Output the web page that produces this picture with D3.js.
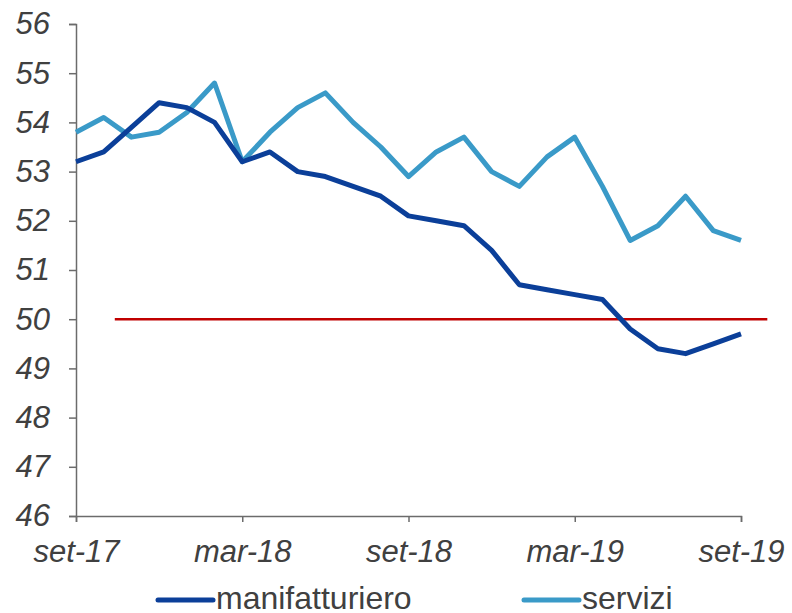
<!DOCTYPE html>
<html><head><meta charset="utf-8">
<script src="https://cdn.jsdelivr.net/npm/d3@7"></script>
<style>body{margin:0;background:#fff}</style>
</head><body>
<svg id="c" width="792" height="613"></svg>
<script>
const months = ["set-17","ott-17","nov-17","dic-17","gen-18","feb-18","mar-18","apr-18","mag-18","giu-18","lug-18","ago-18","set-18","ott-18","nov-18","dic-18","gen-19","feb-19","mar-19","apr-19","mag-19","giu-19","lug-19","ago-19","set-19"];
const manifatturiero = [53.2,53.4,53.9,54.4,54.3,54.0,53.2,53.4,53.0,52.9,52.7,52.5,52.1,52.0,51.9,51.4,50.7,50.6,50.5,50.4,49.8,49.4,49.3,49.5,49.7];
const servizi = [53.8,54.1,53.7,53.8,54.2,54.8,53.2,53.8,54.3,54.6,54.0,53.5,52.9,53.4,53.7,53.0,52.7,53.3,53.7,52.7,51.6,51.9,52.5,51.8,51.6];
const xTickLabels = ["set-17","mar-18","set-18","mar-19","set-19"];
const yTicks = [46,47,48,49,50,51,52,53,54,55,56];
const refValue = 50;
const refExtent = [1.4, 24.95];
const seriesNames = ["manifatturiero","servizi"];
const colors = ["#0B3F99","#3A9AC8"];

const svg = d3.select("#c");
const x = d3.scaleLinear().domain([0, months.length-1]).range([76, 741]);
const y = d3.scaleLinear().domain([46, 56]).range([516, 24]);
const axisColor = "#6b6b6b";
const font = "Liberation Sans, Arial, sans-serif";

// y axis
const ya = svg.append("g").attr("transform","translate(76,0)")
  .call(d3.axisLeft(y).tickValues(yTicks).tickSize(7).tickPadding(19));
ya.select(".domain").attr("stroke",axisColor).attr("stroke-width",1.5);
ya.selectAll(".tick line").attr("stroke",axisColor).attr("stroke-width",1.5);
ya.selectAll("text").attr("font-family",font)
  .attr("font-style","italic").attr("font-size",31).attr("fill","#404040");

// x axis
const xa = svg.append("g").attr("transform","translate(0,516)")
  .call(d3.axisBottom(x).tickValues(xTickLabels.map(l=>months.indexOf(l)))
    .tickFormat(i=>months[i]).tickSize(6));
xa.select(".domain").attr("stroke",axisColor).attr("stroke-width",1.5);
xa.selectAll(".tick line").attr("stroke",axisColor).attr("stroke-width",1.5);
xa.selectAll("text").attr("y",46).attr("dy",0).attr("font-family",font)
  .attr("font-style","italic").attr("font-size",31).attr("fill","#404040");

// reference line
svg.append("line").attr("x1",x(refExtent[0])).attr("x2",x(refExtent[1]))
  .attr("y1",y(refValue)).attr("y2",y(refValue))
  .attr("stroke","#C00000").attr("stroke-width",2.5);

const line = d3.line().x((d,i)=>x(i)).y(d=>y(d));
[[servizi,1],[manifatturiero,0]].forEach(([s,idx])=>{
  svg.append("path").datum(s).attr("d",line).attr("fill","none")
    .attr("stroke",colors[idx]).attr("stroke-width",5).attr("stroke-linejoin","round");
});

// legend
const legX = [158, 524];
seriesNames.forEach((n,i)=>{
  const g = svg.append("g");
  g.append("line").attr("x1",legX[i]).attr("x2",legX[i]+55).attr("y1",600).attr("y2",600)
    .attr("stroke",colors[i]).attr("stroke-width",5).attr("stroke-linecap","round");
  g.append("text").attr("x",legX[i]+58).attr("y",609).text(n)
    .attr("font-family",font).attr("font-size",32).attr("fill","#404040");
});
</script>
</body></html>
